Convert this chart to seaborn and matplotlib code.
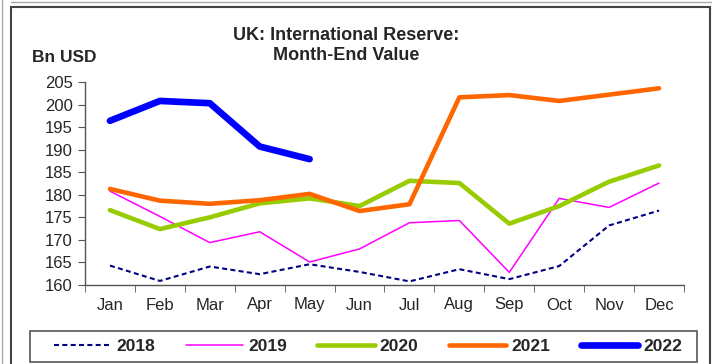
import numpy as np
import pandas as pd
import matplotlib
matplotlib.use("Agg")
import matplotlib.pyplot as plt
import seaborn as sns
from matplotlib.patches import Rectangle
from matplotlib.lines import Line2D

# 数据 (Bn USD, month-end)
months = ["Jan", "Feb", "Mar", "Apr", "May", "Jun",
          "Jul", "Aug", "Sep", "Oct", "Nov", "Dec"]
v2018 = [164.3, 160.9, 164.1, 162.4, 164.6, 162.9, 160.8, 163.5, 161.3, 164.2, 173.2, 176.5]
v2019 = [180.8, 175.2, 169.4, 171.8, 165.1, 168.0, 173.8, 174.3, 162.8, 179.2, 177.2, 182.6]
v2020 = [176.6, 172.4, 175.0, 178.1, 179.2, 177.5, 183.1, 182.6, 173.6, 177.5, 182.9, 186.5]
v2021 = [181.3, 178.7, 178.0, 178.8, 180.2, 176.4, 177.9, 201.6, 202.1, 200.8, 202.2, 203.6]
v2022 = [196.4, 200.8, 200.3, 190.7, 187.9]

years = ["2018", "2019", "2020", "2021", "2022"]
values = [v2018, v2019, v2020, v2021, v2022]
colors = ["#000080", "#FF00FF", "#99CC00", "#FF6600", "#0000FF"]
widths = [1.5, 1.1, 3.3, 3.3, 4.8]
styles = [(0, (2.4, 1.6)), "-", "-", "-", "-"]

sns.set_style("white")
plt.rcParams['font.family'] = ['Liberation Sans', 'DejaVu Sans']

fig = plt.figure(figsize=(7.12, 3.64), dpi=100)
W, H = 712.0, 364.0
ax = fig.add_axes([85 / W, 1 - 285 / H, (684 - 85) / W, (285 - 82) / H])

handles = []
for yr, vals, c, lw, ls in zip(years, values, colors, widths, styles):
    df = pd.DataFrame({"x": np.arange(len(vals)), "y": vals})
    sns.lineplot(data=df, x="x", y="y", ax=ax, color=c, linewidth=lw,
                 linestyle=ls, solid_capstyle="round", solid_joinstyle="round")
    handles.append(Line2D([0], [0], color=c, linewidth=lw, linestyle=ls,
                          solid_capstyle="round"))

ax.set_xlim(-0.5, 11.5)
ax.set_ylim(160, 205)
ax.set_yticks(np.arange(160, 206, 5))
ax.set_xticks(np.arange(12))
ax.set_xticklabels(months)
ax.set_xticks(np.arange(-0.5, 12, 1), minor=True)
ax.tick_params(axis="x", which="major", length=0, pad=9, labelsize=12)
ax.tick_params(axis="x", which="minor", length=5, direction="out", color="#555555")
ax.tick_params(axis="y", length=5, direction="out", color="#555555", labelsize=12, pad=4)
ax.xaxis.set_ticks_position("bottom")
ax.yaxis.set_ticks_position("left")
ax.set_xlabel("")
ax.set_ylabel("")
for s in ["top", "right"]:
    ax.spines[s].set_visible(False)
for s in ["left", "bottom"]:
    ax.spines[s].set_color("#555555")
    ax.spines[s].set_linewidth(1.0)

fig.text(346 / W, 1 - 36 / H, "UK: International Reserve:", ha="center", va="center",
         fontsize=13, fontweight="bold")
fig.text(346 / W, 1 - 56 / H, "Month-End Value", ha="center", va="center",
         fontsize=13, fontweight="bold")
fig.text(32 / W, 1 - 57 / H, "Bn USD", ha="left", va="center",
         fontsize=12.5, fontweight="bold")

# 图例 (frame drawn separately)
leg = fig.legend(handles, years, ncol=5, loc="center",
                 bbox_to_anchor=(368 / W, 1 - 346.5 / H), borderaxespad=0,
                 prop={"weight": "bold", "size": 12.5}, handlelength=3.3,
                 handletextpad=0.3, columnspacing=1.75, frameon=False)
fig.patches.append(Rectangle((30 / W, 1 - 362 / H), 667 / W, 31 / H,
                             transform=fig.transFigure, fill=False,
                             edgecolor="#555555", linewidth=1.2))

# 外框
fig.patches.append(Rectangle((11 / W, -0.01), 699 / W, 1 - 7 / H + 0.01,
                             transform=fig.transFigure, fill=False,
                             edgecolor="#444444", linewidth=1.5))
fig.lines.append(Line2D([11 / W, 1], [1 - 2 / H, 1 - 2 / H], transform=fig.transFigure,
                        color="#aaaaaa", linewidth=1))
fig.lines.append(Line2D([2 / W, 2 / W], [0, 1], transform=fig.transFigure,
                        color="#aaaaaa", linewidth=1))

fig.savefig("out.png", dpi=100)
